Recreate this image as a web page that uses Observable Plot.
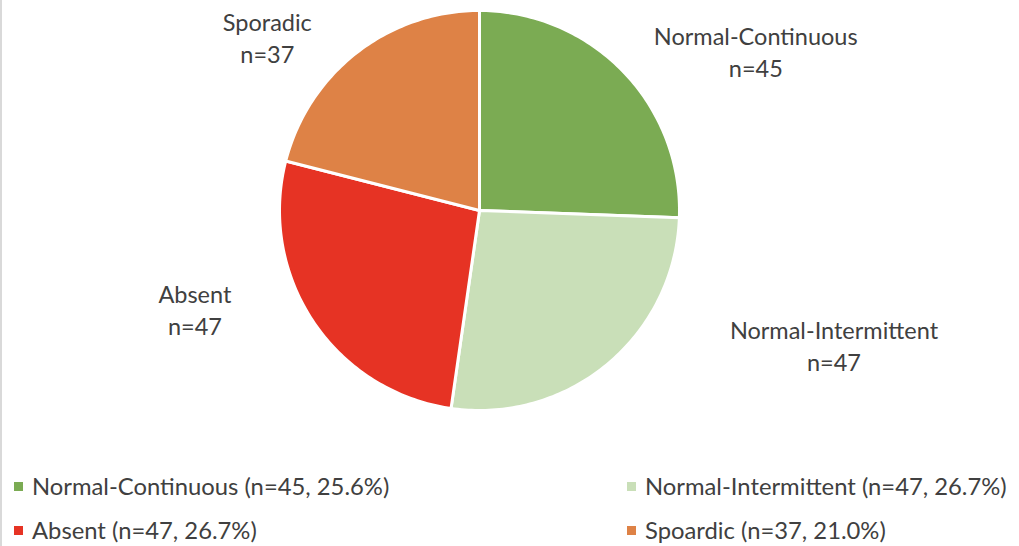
<!DOCTYPE html>
<html>
<head>
<meta charset="utf-8">
<script src="https://cdn.jsdelivr.net/npm/d3@7"></script>
<script src="https://cdn.jsdelivr.net/npm/@observablehq/plot@0.6"></script>
<style>
  html, body { margin: 0; padding: 0; background: #fff; }
  #wrap { position: relative; width: 1019px; height: 546px; overflow: hidden; border-left: 2px solid #d9d9d9; box-sizing: border-box; font-family: Lato, "Open Sans", sans-serif; color: #404040; }
  #chart svg { display: block; }
  #legend { position: absolute; left: 12px; top: 464px; display: grid; grid-template-columns: 613px auto; grid-auto-rows: 44px; font-size: 23.8px; color: #404040; }
  .item { display: flex; align-items: center; white-space: nowrap; }
  .sw { width: 9px; height: 9px; margin-right: 9px; flex: none; }
</style>
</head>
<body>
<div id="wrap">
  <div id="chart"></div>
  <div id="legend"></div>
</div>
<script>
// ---- data ----
const categories = ["Normal-Continuous", "Normal-Intermittent", "Absent", "Sporadic"];
const counts = [45, 47, 47, 37];
const legendNames = ["Normal-Continuous", "Normal-Intermittent", "Absent", "Spoardic"];
const percents = ["25.6%", "26.7%", "26.7%", "21.0%"];
const colors = ["#7bab53", "#c9dfb8", "#e63324", "#de8246"];
// label placement (layout only): angle in degrees clockwise from top, distance from centre
const labelAngle = [60, 110.8, 251, 309.35];
const labelDist = [319, 379.2, 301, 274.4];

// ---- layout ----
const W = 1017, H = 450, cx = 477, cy = 210, R = 200;

const pie = d3.pie().sort(null).startAngle(0).endAngle(2 * Math.PI)(counts);

// wedge outlines sampled along arcs
const wedgePts = [];
pie.forEach((p, i) => {
  const n = Math.max(2, Math.ceil((p.endAngle - p.startAngle) / (Math.PI / 180)));
  wedgePts.push({cat: categories[i], x: 0, y: 0});
  for (let k = 0; k <= n; k++) {
    const a = p.startAngle + (p.endAngle - p.startAngle) * k / n;
    wedgePts.push({cat: categories[i], x: R * Math.sin(a), y: R * Math.cos(a)});
  }
});

const labels = categories.map((c, i) => {
  const a = labelAngle[i] * Math.PI / 180;
  return {cat: c, text: `${c}\nn=${counts[i]}`, x: labelDist[i] * Math.sin(a), y: labelDist[i] * Math.cos(a)};
});

const plot = Plot.plot({
  width: W,
  height: H,
  margin: 0,
  x: {domain: [-cx, W - cx], axis: null},
  y: {domain: [-(H - cy), cy], axis: null},
  color: {domain: categories, range: colors},
  marks: [
    Plot.line(wedgePts, {x: "x", y: "y", z: "cat", fill: "cat", stroke: "white", strokeWidth: 3, curve: "linear-closed", strokeLinejoin: "round"}),
    Plot.text(labels, {x: "x", y: "y", text: "text", fontSize: 23.5, lineHeight: 1.36, fill: "#404040", fontFamily: "Lato, 'Open Sans', sans-serif"})
  ],
  style: {fontFamily: "Lato, 'Open Sans', sans-serif", background: "white"}
});
document.getElementById("chart").appendChild(plot);

// legend
const leg = document.getElementById("legend");
categories.forEach((c, i) => {
  const d = document.createElement("div");
  d.className = "item";
  const s = document.createElement("span");
  s.className = "sw";
  s.style.background = colors[i];
  const t = document.createElement("span");
  t.textContent = `${legendNames[i]} (n=${counts[i]}, ${percents[i]})`;
  d.appendChild(s); d.appendChild(t);
  leg.appendChild(d);
});
</script>
</body>
</html>
